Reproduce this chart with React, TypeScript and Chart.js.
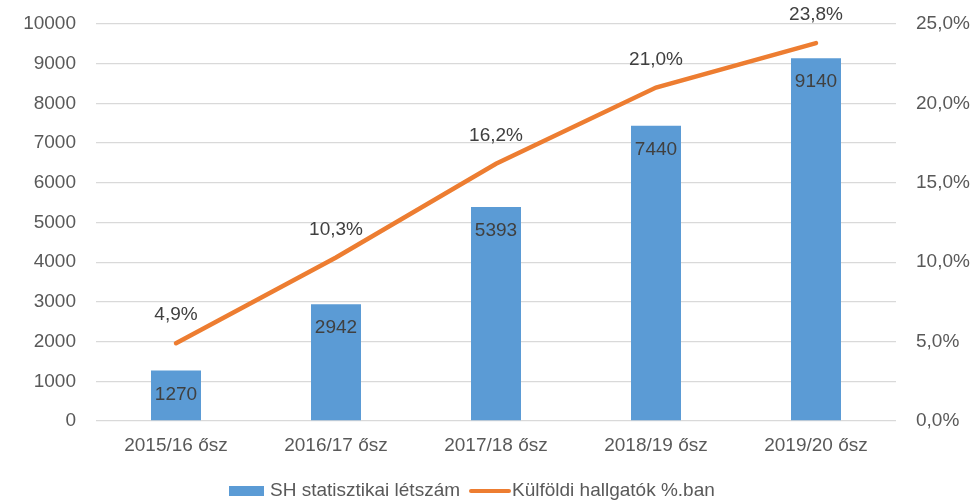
import React, { useEffect, useRef } from "react";
import { Chart, registerables } from "chart.js";

Chart.register(...registerables);

const categories = ["2015/16 ősz", "2016/17 ősz", "2017/18 ősz", "2018/19 ősz", "2019/20 ősz"];
const headcount = [1270, 2942, 5393, 7440, 9140];
const foreignPct = [4.9, 10.3, 16.2, 21.0, 23.8];
const seriesNames = ["SH statisztikai létszám", "Külföldi hallgatók %.ban"];

const FONT = "'Liberation Sans', Arial, sans-serif";
const BLUE = "#5B9BD5";
const ORANGE = "#ED7D31";
const TEXT = "#595959";
const LABEL = "#404040";

const fmtPct = (v: number) => v.toFixed(1).replace(".", ",") + "%";

const labelsPlugin = {
  id: "customLabels",
  afterDatasetsDraw(chart: any) {
    const ctx = chart.ctx;
    ctx.save();
    ctx.font = `19px ${FONT}`;
    ctx.fillStyle = LABEL;
    ctx.textAlign = "center";
    ctx.textBaseline = "middle";
    const barMeta = chart.getDatasetMeta(0);
    barMeta.data.forEach((el: any, i: number) => {
      ctx.fillText(String(headcount[i]), el.x, el.y + 24);
    });
    const lineMeta = chart.getDatasetMeta(1);
    lineMeta.data.forEach((el: any, i: number) => {
      ctx.fillText(fmtPct(foreignPct[i]), el.x, el.y - 28);
    });
    // legend
    const y = 491;
    ctx.fillStyle = BLUE;
    ctx.fillRect(229, y - 5, 35, 10);
    ctx.fillStyle = TEXT;
    ctx.textAlign = "left";
    ctx.fillText(seriesNames[0], 270, y);
    ctx.strokeStyle = ORANGE;
    ctx.lineWidth = 4;
    ctx.lineCap = "round";
    ctx.beginPath();
    ctx.moveTo(471, y);
    ctx.lineTo(509, y);
    ctx.stroke();
    ctx.fillText(seriesNames[1], 512, y);
    ctx.restore();
  },
};

export default function App() {
  const ref = useRef<HTMLCanvasElement>(null);
  useEffect(() => {
    document.body.style.margin = "0";
    const chart = new Chart(ref.current!, {
      type: "bar",
      data: {
        labels: categories,
        datasets: [
          {
            type: "bar",
            label: seriesNames[0],
            data: headcount,
            backgroundColor: BLUE,
            yAxisID: "y",
            barPercentage: 0.625,
            categoryPercentage: 0.5,
            order: 2,
          },
          {
            type: "line",
            label: seriesNames[1],
            data: foreignPct,
            borderColor: ORANGE,
            borderWidth: 4.5,
            pointRadius: 0,
            borderCapStyle: "round",
            tension: 0,
            yAxisID: "y1",
            order: 1,
          } as any,
        ],
      },
      options: {
        animation: false,
        responsive: false,
        layout: { padding: { top: 24, left: 0, right: 0, bottom: 0 } },
        plugins: { legend: { display: false }, tooltip: { enabled: false } },
        scales: {
          x: {
            grid: { display: false, drawTicks: false },
            border: { display: false },
            ticks: { color: TEXT, font: { family: FONT, size: 19 }, padding: 13 },
            afterFit: (s: any) => { s.height = 83; s.paddingLeft = 0; s.paddingRight = 0; },
          },
          y: {
            position: "left",
            min: 0,
            max: 10000,
            ticks: {
              stepSize: 1000,
              color: TEXT,
              font: { family: FONT, size: 19 },
              padding: 20,
              callback: (v: any) => String(v),
            },
            grid: { color: "#D9D9D9", lineWidth: 1.3, drawTicks: false },
            border: { display: false },
            afterFit: (s: any) => { s.width = 96; s.paddingTop = 0; s.paddingBottom = 0; },
          },
          y1: {
            position: "right",
            min: 0,
            max: 25,
            ticks: {
              stepSize: 5,
              color: TEXT,
              font: { family: FONT, size: 19 },
              padding: 20,
              callback: (v: any) => fmtPct(Number(v)),
            },
            grid: { display: false, drawTicks: false },
            border: { display: false },
            afterFit: (s: any) => { s.width = 84; s.paddingTop = 0; s.paddingBottom = 0; },
          },
        },
      },
      plugins: [labelsPlugin],
    });
    return () => chart.destroy();
  }, []);
  return (
    <div style={{ width: 980, height: 504 }}>
      <canvas ref={ref} width={980} height={504} style={{ display: "block" }} />
    </div>
  );
}
